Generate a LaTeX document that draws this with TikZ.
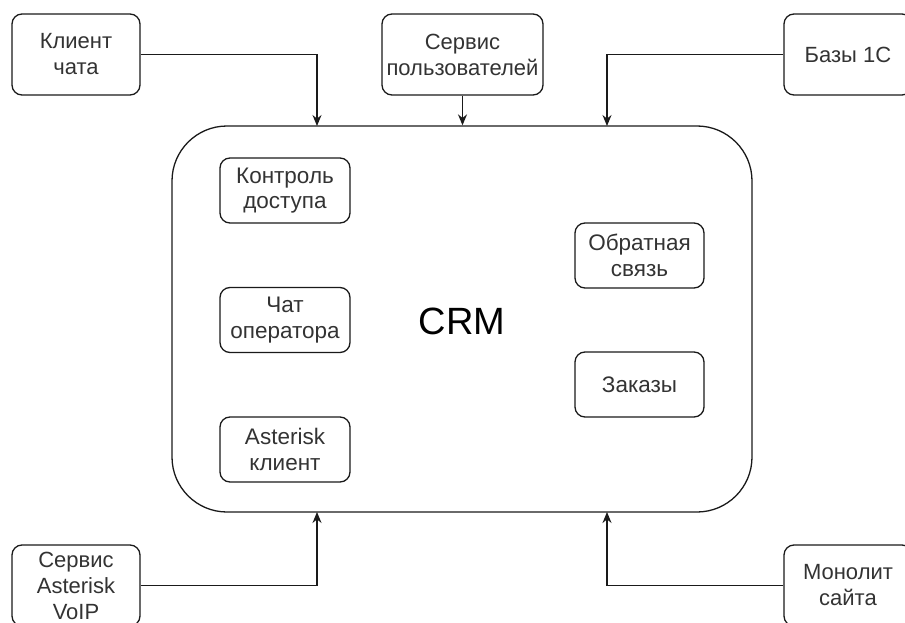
\documentclass[tikz,border=0pt]{standalone}
\usepackage{fontspec}
\setmainfont{Liberation Sans}
\usetikzlibrary{arrows.meta}
\definecolor{txt}{HTML}{333333}
\definecolor{ln}{HTML}{1A1A1A}
\tikzset{
  box/.style={draw=ln, line width=1.3pt, rounded corners=10pt, fill=white,
    minimum width=#1, minimum height=65pt, inner sep=0pt, align=center,
    text=txt, font=\fontsize{22.5}{25.5}\selectfont},
  outer/.style={draw=ln, line width=1.3pt, rounded corners=10pt, fill=white,
    minimum height=81pt, inner sep=0pt, align=center,
    text=txt, font=\fontsize{22}{26}\selectfont},
  conn/.style={draw=ln, line width=1.3pt, -{Stealth[length=11pt,width=9pt]}},
}
\begin{document}
\begin{tikzpicture}[x=1pt,y=-1pt]
\useasboundingbox (0,0) rectangle (905,623);
\clip (0,0) rectangle (905,623);
% CRM
\node[draw=ln, line width=1.3pt, rounded corners=55pt, minimum width=580pt, minimum height=386pt, inner sep=0pt] (crm) at (462,319) {};
\node[text=black, font=\fontsize{38}{44}\selectfont] (crmt) at (462,321) {CRM};
% inner boxes
\node[box=130pt] (kd) at (285,190.5) {Контроль\\доступа};
\node[box=130pt] (co) at (285,320) {Чат\\оператора};
\node[box=130pt] (ak) at (285,449.5) {Asterisk\\клиент};
\node[box=129pt] (os) at (639.5,255.5) {Обратная\\связь};
\node[box=129pt] (zk) at (639.5,384.5) {Заказы};
% outer boxes
\node[outer, minimum width=128pt] (kc) at (76,54.5) {Клиент\\чата};
\node[outer, minimum width=161pt] (sp) at (462.5,54.5) {Сервис\\пользователей};
\node[outer, minimum width=128pt] (b1) at (848,54.5) {Базы 1С};
\node[outer, minimum width=128pt] (sa) at (76,585.5) {Сервис\\Asterisk\\VoIP};
\node[outer, minimum width=128pt] (ms) at (848,585.5) {Монолит\\сайта};
% connector ends on CRM
\coordinate (t1) at (317,126);
\coordinate (t3) at (607,126);
\coordinate (b1p) at (317,512);
\coordinate (b3p) at (607,512);
\draw[conn] (kc.east) -| (t1);
\draw[conn] (sp.south) -- (sp.south |- crm.north);
\draw[conn] (b1.west) -| (t3);
\draw[conn] (sa.east) -| (b1p);
\draw[conn] (ms.west) -| (b3p);
\end{tikzpicture}
\end{document}
